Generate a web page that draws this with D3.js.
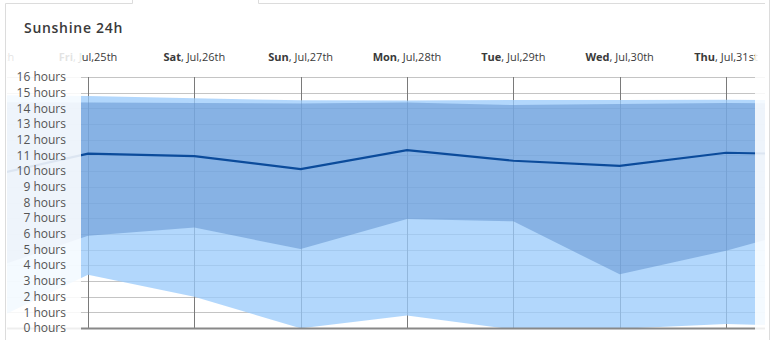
<!DOCTYPE html>
<html><head><meta charset="utf-8">
<script src="https://cdn.jsdelivr.net/npm/d3@7"></script>
<style>
html,body{margin:0;padding:0;background:#fff;}
svg{display:block;}
</style></head>
<body>
<svg id="chart" width="774" height="340"></svg>
<script>
// ---- data ----
const dayIndex   = [-1, 0, 1, 2, 3, 4, 5, 6, 7];
const dayNames   = ["Thu", "Fri", "Sat", "Sun", "Mon", "Tue", "Wed", "Thu", "Fri"];
const dateLabels = ["Jul,24th", "Jul,25th", "Jul,26th", "Jul,27th", "Jul,28th", "Jul,29th", "Jul,30th", "Jul,31st", "Aug,1st"];
const meanHours  = [9.6, 11.11, 10.96, 10.13, 11.34, 10.66, 10.34, 11.17, 11.04];
const innerHigh  = [14.4, 14.37, 14.34, 14.31, 14.37, 14.21, 14.28, 14.34, 14.3];
const innerLow   = [3.57, 5.88, 6.4, 5.03, 6.95, 6.8, 3.42, 4.93, 6.8];
const outerHigh  = [14.85, 14.79, 14.64, 14.51, 14.5, 14.53, 14.53, 14.55, 14.5];
const outerLow   = [0.16, 3.4, 2.0, -0.02, 0.8, -0.1, -0.05, 0.25, 0.1];
const yTicks     = [0, 1, 2, 3, 4, 5, 6, 7, 8, 9, 10, 11, 12, 13, 14, 15, 16];
const visibleDays = [0, 1, 2, 3, 4, 5, 6];
const labelDays   = [-1, 0, 1, 2, 3, 4, 5, 6];

const svg = d3.select("#chart");
const x = d3.scaleLinear().domain([0, 6]).range([88, 726]);
const y = d3.scaleLinear().domain([0, 16]).range([328, 77]);

const rows = dayIndex.map((d, i) => ({
  d, mean: meanHours[i], iH: innerHigh[i], iL: innerLow[i], oH: outerHigh[i], oL: outerLow[i]
}));

const defs = svg.append("defs");
defs.append("clipPath").attr("id", "plotClip")
  .append("rect").attr("x", 7).attr("y", 40).attr("width", 758).attr("height", 288);
defs.append("clipPath").attr("id", "labelClip")
  .append("rect").attr("x", 7).attr("y", 40).attr("width", 758).attr("height", 30);

// frame / tabs
const frame = svg.append("g").attr("stroke", "#dcdcdc").attr("fill", "none").attr("stroke-width", 1);
frame.append("path").attr("d", "M5.5,340 V3.5 H132.5 V0");
frame.append("path").attr("d", "M258.5,0 V3.5 H765");
frame.append("path").attr("d", "M769.5,0 V340");

// title
svg.append("text").attr("x", 24).attr("y", 33)
  .attr("font-family", "Open Sans, sans-serif").attr("font-size", 14).attr("font-weight", 600)
  .attr("letter-spacing", 0.7).attr("fill", "#3a3a3a").text("Sunshine 24h");

// horizontal gridlines
svg.append("g").selectAll("line").data(yTicks).join("line")
  .attr("x1", 7).attr("x2", 765)
  .attr("y1", d => Math.round(y(d)) + 0.5).attr("y2", d => Math.round(y(d)) + 0.5)
  .attr("stroke", "#c4c4c4").attr("stroke-width", 1);

// vertical gridlines
svg.append("g").selectAll("line").data(visibleDays).join("line")
  .attr("x1", d => Math.round(x(d)) + 0.5).attr("x2", d => Math.round(x(d)) + 0.5)
  .attr("y1", y(16)).attr("y2", y(0))
  .attr("stroke", "#7a7a7a").attr("stroke-width", 1);

const plot = svg.append("g").attr("clip-path", "url(#plotClip)");

const outerArea = d3.area().x(r => x(r.d)).y0(r => y(r.oL)).y1(r => y(r.oH));
const innerArea = d3.area().x(r => x(r.d)).y0(r => y(r.iL)).y1(r => y(r.iH));
const meanLine  = d3.line().x(r => x(r.d)).y(r => y(r.mean));

plot.append("path").datum(rows).attr("d", outerArea)
  .attr("fill", "rgb(154,203,251)").attr("fill-opacity", 0.76);
plot.append("path").datum(rows).attr("d", innerArea)
  .attr("fill", "rgb(91,142,204)").attr("fill-opacity", 0.5);
plot.append("path").datum(rows).attr("d", meanLine)
  .attr("fill", "none").attr("stroke", "#0b4b9b").attr("stroke-width", 2.2);

// x axis baseline
svg.append("line").attr("x1", 7).attr("x2", 765).attr("y1", 328.5).attr("y2", 328.5)
  .attr("stroke", "#888").attr("stroke-width", 2);

// date labels
const lab = svg.append("g").attr("clip-path", "url(#labelClip)")
  .attr("font-family", "Open Sans, sans-serif").attr("font-size", 11).attr("fill", "#3a3a3a");
labelDays.forEach(d => {
  const i = dayIndex.indexOf(d);
  const t = lab.append("text").attr("x", x(d)).attr("y", 61).attr("text-anchor", "middle");
  t.append("tspan").attr("font-weight", "bold").text(dayNames[i]);
  t.append("tspan").text(", " + dateLabels[i]);
});

// faded overlays for out-of-range scroll areas
svg.append("rect").attr("x", 7).attr("y", 40).attr("width", 74).attr("height", 296)
  .attr("fill", "#fff").attr("fill-opacity", 0.86);
svg.append("rect").attr("x", 755).attr("y", 40).attr("width", 10).attr("height", 296)
  .attr("fill", "#fff").attr("fill-opacity", 0.86);

// y labels
svg.append("g").selectAll("text").data(yTicks).join("text")
  .attr("x", 66).attr("y", d => y(d)).attr("dy", "0.35em").attr("text-anchor", "end")
  .attr("font-family", "Open Sans, sans-serif").attr("font-size", 12).attr("fill", "#555")
  .text(d => d + " hours");
</script>
</body></html>
